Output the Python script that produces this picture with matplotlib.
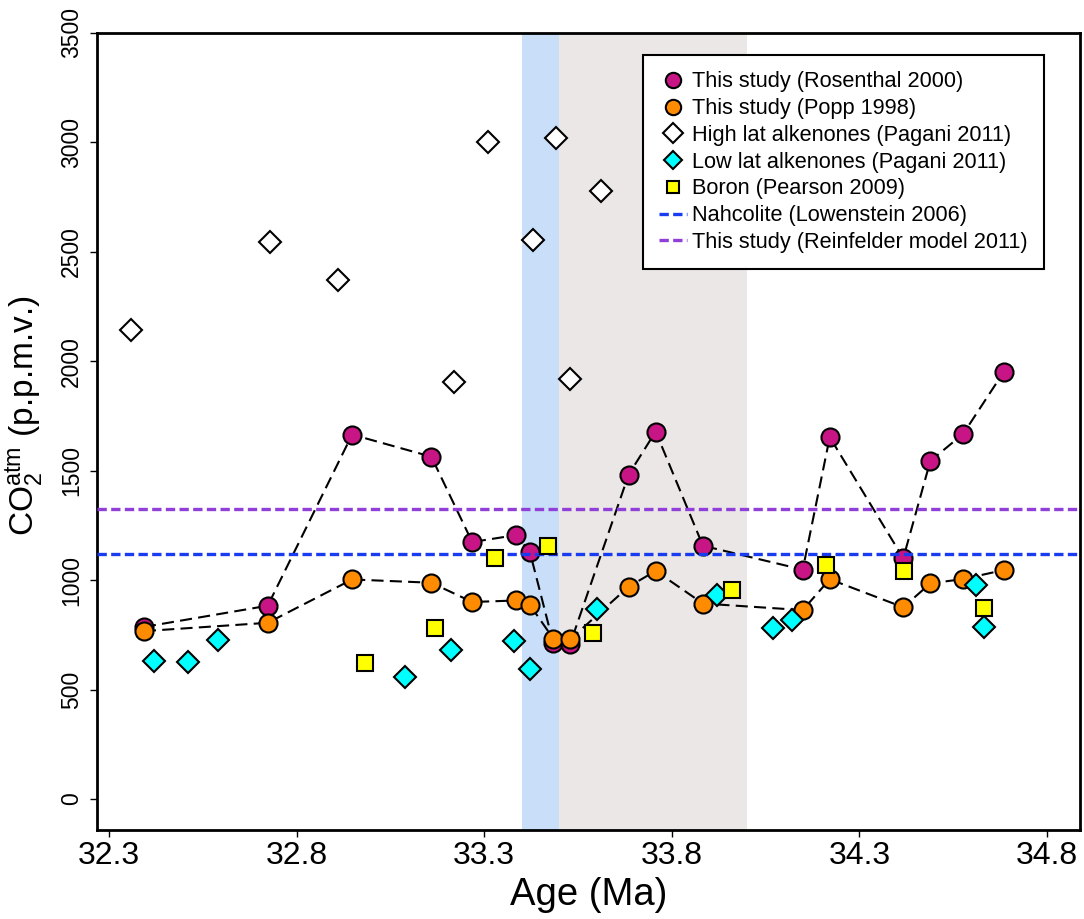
import matplotlib
matplotlib.use("Agg")
import matplotlib.pyplot as plt

plt.rcParams['font.family'] = ['Liberation Sans', 'DejaVu Sans']
plt.rcParams['mathtext.fontset'] = 'custom'
plt.rcParams['mathtext.rm'] = 'Liberation Sans'
plt.rcParams['mathtext.it'] = 'Liberation Sans'

# Rosenthal 2000 calibration (this study)
ros_age = [32.393, 32.723, 32.948, 33.159, 33.268, 33.386, 33.422, 33.484, 33.529,
           33.685, 33.757, 33.883, 34.149, 34.221, 34.417, 34.489, 34.577, 34.685]
ros_co2 = [786, 883, 1665, 1564, 1174, 1206, 1127, 712, 708,
           1482, 1679, 1157, 1048, 1653, 1100, 1544, 1669, 1952]

# Popp 1998 calibration (this study), same ages
popp_co2 = [767, 805, 1003, 988, 900, 907, 886, 733, 729,
            970, 1042, 893, 863, 1004, 876, 985, 1005, 1046]

# High latitude alkenones (Pagani 2011)
hi_age = [32.359, 32.730, 32.911, 33.220, 33.311, 33.431, 33.491, 33.530, 33.611]
hi_co2 = [2143, 2546, 2371, 1906, 3000, 2552, 3021, 1921, 2778]

# Low latitude alkenones (Pagani 2011)
lo_age = [32.421, 32.510, 32.590, 33.090, 33.211, 33.380, 33.421, 33.600,
          33.920, 34.070, 34.121, 34.612, 34.631]
lo_co2 = [630, 627, 726, 559, 679, 723, 592, 867, 934, 783, 818, 978, 787]

# Boron (Pearson 2009)
boron_age = [32.981, 33.170, 33.330, 33.471, 33.591, 33.960, 34.211, 34.420, 34.631]
boron_co2 = [620, 783, 1101, 1157, 760, 955, 1070, 1042, 873]

# horizontal reference levels
nahcolite = 1119
reinfelder = 1325

# shaded intervals (Ma)
blue_band = (33.4, 33.5)
grey_band = (33.5, 34.0)

x_ticks = [32.3, 32.8, 33.3, 33.8, 34.3, 34.8]
y_ticks = [0, 500, 1000, 1500, 2000, 2500, 3000, 3500]


def main():
    fig = plt.figure(figsize=(10.84, 9.19), dpi=100)
    ax = fig.add_axes([0.0895, 0.0968, 0.9068, 0.8673])

    ax.axvspan(*blue_band, color='#c9dff9', lw=0, zorder=0)
    ax.axvspan(*grey_band, color='#ebe7e6', lw=0, zorder=0)

    dash = (0, (5.8, 3.0))
    ax.plot(ros_age, ros_co2, color='black', lw=1.5, ls=dash, zorder=2)
    ax.plot(ros_age, popp_co2, color='black', lw=1.5, ls=dash, zorder=2)

    ax.plot(ros_age, ros_co2, 'o', ms=13, mfc='#c71585', mec='black', mew=1.5,
            zorder=3, label='This study (Rosenthal 2000)')

    hdash = (0, (2.8, 1.3))
    ax.axhline(nahcolite, color='#1a3cf0', lw=2.4, ls=hdash, zorder=4,
               label='Nahcolite (Lowenstein 2006)')
    ax.axhline(reinfelder, color='#9040d8', lw=2.4, ls=hdash, zorder=4,
               label='This study (Reinfelder model 2011)')

    ax.plot(ros_age, popp_co2, 'o', ms=13, mfc='#ff8c00', mec='black', mew=1.5,
            zorder=5, label='This study (Popp 1998)')
    ax.plot(hi_age, hi_co2, 'D', ms=11.5, mfc='white', mec='black', mew=1.5,
            zorder=5, label='High lat alkenones (Pagani 2011)')
    ax.plot(lo_age, lo_co2, 'D', ms=11, mfc='#00ffff', mec='black', mew=1.5,
            zorder=6, label='Low lat alkenones (Pagani 2011)')
    ax.plot(boron_age, boron_co2, 's', ms=11, mfc='#ffff00', mec='black', mew=1.5,
            zorder=7, label='Boron (Pearson 2009)')

    ax.set_xlim(32.268, 34.888)
    ax.set_ylim(-142, 3500)
    ax.set_xticks(x_ticks)
    ax.set_xticklabels([f'{t:.1f}' for t in x_ticks])
    ax.set_yticks(y_ticks)
    ax.set_yticklabels([str(t) for t in y_ticks], rotation=90, va='center')

    ax.tick_params(axis='x', direction='out', length=5, width=1, labelsize=23, pad=3)
    ax.tick_params(axis='y', direction='out', length=5, width=1, labelsize=16.5, pad=5)
    for sp in ax.spines.values():
        sp.set_linewidth(2)

    ax.set_xlabel('Age (Ma)', fontsize=27.5, labelpad=4)
    ax.set_ylabel(r'CO$_{\mathrm{2}}^{\mathrm{atm}}$ (p.p.m.v.)', fontsize=24)
    ax.yaxis.set_label_coords(-0.052, 0.52)

    # legend order as in the figure
    handles, labels = ax.get_legend_handles_labels()
    order = ['This study (Rosenthal 2000)', 'This study (Popp 1998)',
             'High lat alkenones (Pagani 2011)', 'Low lat alkenones (Pagani 2011)',
             'Boron (Pearson 2009)', 'Nahcolite (Lowenstein 2006)',
             'This study (Reinfelder model 2011)']
    hmap = dict(zip(labels, handles))
    leg = ax.legend([hmap[k] for k in order], order, loc='upper right',
                    bbox_to_anchor=(1044 / 1084, 1 - 55 / 919),
                    bbox_transform=fig.transFigure, fontsize=15.7,
                    frameon=True, fancybox=False, framealpha=1,
                    edgecolor='black', handlelength=1.25, handletextpad=0.25,
                    labelspacing=0.265, borderpad=0.75, borderaxespad=0,
                    markerscale=0.85)
    leg.get_frame().set_linewidth(1.5)
    leg.set_zorder(10)

    fig.savefig('out.png', dpi=100)


if __name__ == "__main__":
    main()
